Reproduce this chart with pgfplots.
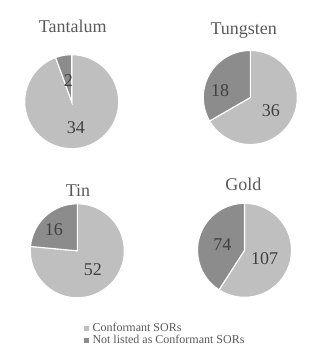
\documentclass[border=0pt]{standalone}
\usepackage{pgfplots}
\pgfplotsset{compat=1.18}
\usepackage{fontspec}
\setmainfont{Liberation Serif}

\definecolor{confgray}{HTML}{BFBFBF}
\definecolor{notlgray}{HTML}{8C8C8C}
\definecolor{titlegray}{HTML}{595959}
\definecolor{labelgray}{HTML}{404040}

% \pie{cx}{cy}{conformant}{not listed}{label 1 x,y}{label 2 x,y}
\newcommand{\pie}[6]{%
  \pgfmathsetmacro{\pietotal}{#3+#4}%
  \pgfmathsetmacro{\piesplit}{90-(360/\pietotal)*#3}%
  \pgfmathsetmacro{\piecx}{cos(\piesplit)}%
  \pgfmathsetmacro{\piecy}{sin(\piesplit)}%
  \begin{axis}[
    at={(#1pt,#2pt)}, anchor=center,
    scale only axis, width=94pt, height=94pt,
    xmin=-1, xmax=1, ymin=-1, ymax=1,
    hide axis, clip=false]
    \filldraw[confgray, draw=white, line width=1.1pt]
      (axis cs:0,0) -- (axis cs:0,1)
      arc[start angle=90, end angle=\piesplit, radius=47pt] -- cycle;
    \filldraw[notlgray, draw=white, line width=1.1pt]
      (axis cs:0,0) -- (axis cs:\piecx,\piecy)
      arc[start angle=\piesplit, end angle=-270, radius=47pt] -- cycle;
    \node[text=labelgray, font=\fontsize{18}{18}\selectfont]
      at (axis cs:#5) {#3};
    \node[text=labelgray, font=\fontsize{18}{18}\selectfont]
      at (axis cs:#6) {#4};
  \end{axis}%
}

\begin{document}
\begin{tikzpicture}
  \path[use as bounding box] (0,0) rectangle (327pt,348pt);

  \pie{71.7}{246.3}{34}{2}{0.09,-0.55}{-0.07,0.46}
  \pie{250.3}{250.5}{36}{18}{0.44,-0.27}{-0.64,0.15}
  \pie{77.3}{97.2}{52}{16}{0.33,-0.40}{-0.50,0.45}
  \pie{244.5}{97.7}{107}{74}{0.43,-0.18}{-0.47,0.12}

  \begin{scope}[every node/.style={text=titlegray, font=\fontsize{18}{18}\selectfont, anchor=base}]
    \node at (72.7pt,315.3pt) {Tantalum};
    \node at (243.7pt,313.7pt) {Tungsten};
    \node at (78pt,151.3pt) {Tin};
    \node at (243.3pt,157pt) {Gold};
  \end{scope}

  % legend
  \begin{axis}[
    at={(84pt,25pt)}, anchor=north west,
    scale only axis, width=10pt, height=10pt,
    xmin=0, xmax=1, ymin=0, ymax=1, hide axis,
    legend cell align=left,
    legend image code/.code={\fill[#1] (0pt,-1.8pt) rectangle (3.6pt,1.8pt);},
    legend style={at={(0,1)}, anchor=north west, draw=none, fill=none,
      font=\fontsize{12}{13}\selectfont, text=titlegray,
      inner sep=0pt, row sep=1pt, column sep=4pt,
      nodes={inner sep=0.3pt}}]
    \addlegendimage{confgray}
    \addlegendentry{Conformant SORs}
    \addlegendimage{notlgray}
    \addlegendentry{Not listed as Conformant SORs}
  \end{axis}
\end{tikzpicture}
\end{document}
